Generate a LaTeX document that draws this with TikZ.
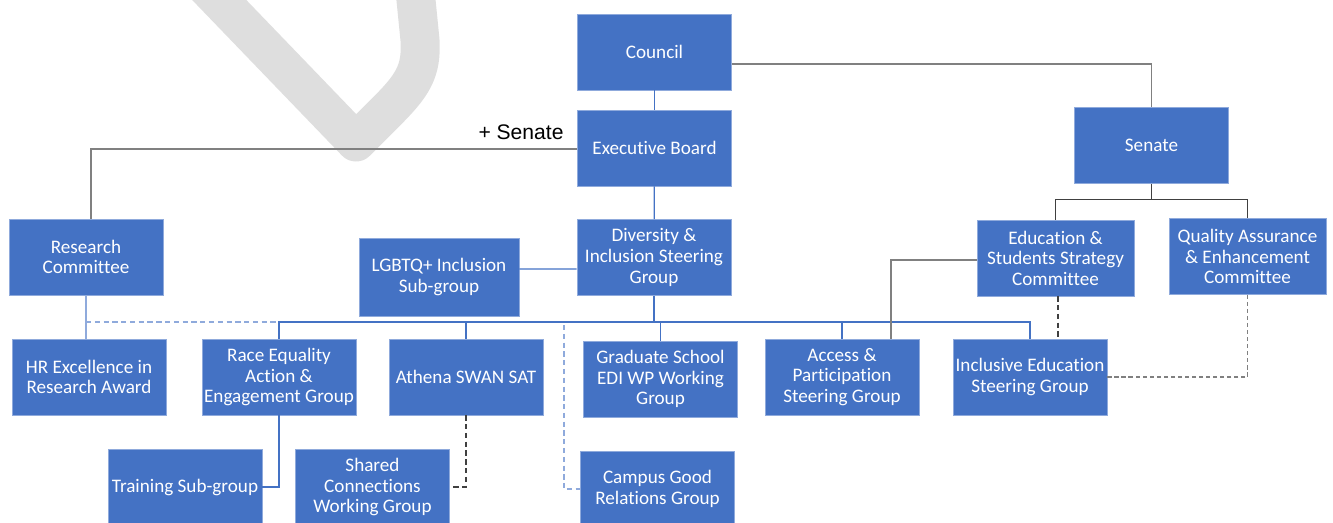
\documentclass[tikz,border=0pt]{standalone}
\usepackage{fontspec}
\setmainfont[Ligatures=NoCommon]{Carlito}
\newfontfamily\arialfont{Liberation Sans}
\usetikzlibrary{positioning,calc}
\definecolor{boxblue}{HTML}{4472C4}
\definecolor{paleblue}{HTML}{8FAADC}
\definecolor{lineDark}{HTML}{404040}
\definecolor{lineGrey}{HTML}{808080}
\definecolor{markgrey}{HTML}{DEDEDE}
\tikzset{
  unit/.style={rectangle,fill=boxblue,draw=paleblue,line width=0.4pt,text=white,align=center,
    minimum width=3.08cm,minimum height=1.52cm,inner sep=1pt,
    font=\fontsize{10.9}{11.7}\selectfont},
  blueline/.style={draw=boxblue,line width=0.7pt},
  paleline/.style={draw=paleblue,line width=0.7pt},
  paledash/.style={paleline,dash pattern=on 3pt off 2pt},
  darkline/.style={draw=lineDark,line width=0.6pt},
  darkdash/.style={darkline,dash pattern=on 3pt off 2pt},
  greyline/.style={draw=lineGrey,line width=0.6pt},
  greydash/.style={greyline,dash pattern=on 2.5pt off 1.5pt},
}

\begin{document}
\begin{tikzpicture}[x=0.02cm,y=-0.02cm]
\useasboundingbox (0,0) rectangle (1333,522);
\clip (0,0) rectangle (1333,522);

% watermark
\draw[markgrey,line width=0.78cm,line join=round]
  (200,-20) -- (356,142) -- (385,113) .. controls (412,86) and (422,72) .. (420,40) -- (414,-20);

\node[unit] (council) at (654.5,52) {Council};
\node[unit] (exec) at (654.5,148) {Executive Board};
\node[unit] (senate) at (1151.5,145.5) {Senate};
\node[unit] (rc) at (86,257) {Research\\Committee};
\node[unit,minimum width=3.2cm,minimum height=1.56cm] (lgbt) at (439,277) {LGBTQ+ Inclusion\\Sub-group};
\node[unit] (dis) at (654,257.5) {Diversity \&\\Inclusion Steering\\Group};
\node[unit,minimum width=3.14cm] (esc) at (1055.5,258) {Education \&\\Students Strategy\\Committee};
\node[unit,minimum width=3.14cm] (qaec) at (1247.5,256.5) {Quality Assurance\\\& Enhancement\\Committee};
\node[unit] (hrx) at (89,377) {HR Excellence in\\Research Award};
\node[unit] (race) at (279,377) {Race Equality\\Action \&\\Engagement Group};
\node[unit] (athena) at (466,377) {Athena SWAN SAT};
\node[unit] (grad) at (660.5,379) {Graduate School\\EDI WP Working\\Group};
\node[unit] (access) at (842,377) {Access \&\\Participation\\Steering Group};
\node[unit] (ieg) at (1030,377) {Inclusive Education\\Steering Group};
\node[unit] (train) at (185,487) {Training Sub-group};
\node[unit] (shared) at (372.5,487) {Shared\\Connections\\Working Group};
\node[unit] (campus) at (657.5,489) {Campus Good\\Relations Group};

\node[font=\arialfont\fontsize{12}{14}\selectfont] (plus) at (521,132) {+ Senate};

\coordinate (busL) at (278,322);
\coordinate (busR) at (1030,322);
\coordinate (cgtop) at (564,325);

\draw[blueline] (council) -- (exec);
\draw[blueline] (exec) -- (dis);
\draw[greyline] ([yshift=-0.24cm]council.east) -| (senate.north);
\draw[greyline] ([yshift=-0.02cm]exec.west) -| ([xshift=0.1cm]rc.north);
\draw[blueline] ([yshift=0.16cm]lgbt.east) -- ([yshift=-0.23cm]dis.west);

\draw[blueline] (dis.south) -- (dis.south |- busL);
\draw[blueline] (race.north) |- (busR) -- (ieg.north);
\foreach \n in {athena,grad,access}
  \draw[blueline] (\n.north) -- (\n.north |- busL);
\draw[paleline] (rc.south) -- (rc.south |- hrx.north);
\draw[paledash] (rc.south |- busL) -- (busL);
\draw[paledash] (cgtop) |- (campus.west);

\draw[blueline] (race.south) |- (train.east);
\draw[darkdash] (athena.south) |- (shared.east);

\draw[darkline] (senate.south) -- ++(0,16) -| (esc.north);
\draw[darkline] (senate.south) -- ++(0,16) -| (qaec.north);
\draw[greyline] ([yshift=-0.04cm]esc.west) -| ([xshift=0.98cm]access.north);
\draw[darkdash] ([xshift=0.05cm]esc.south) -- ([xshift=0.05cm]esc.south |- ieg.north);
\draw[greydash] (qaec.south) |- (ieg.east);

\end{tikzpicture}
\end{document}
